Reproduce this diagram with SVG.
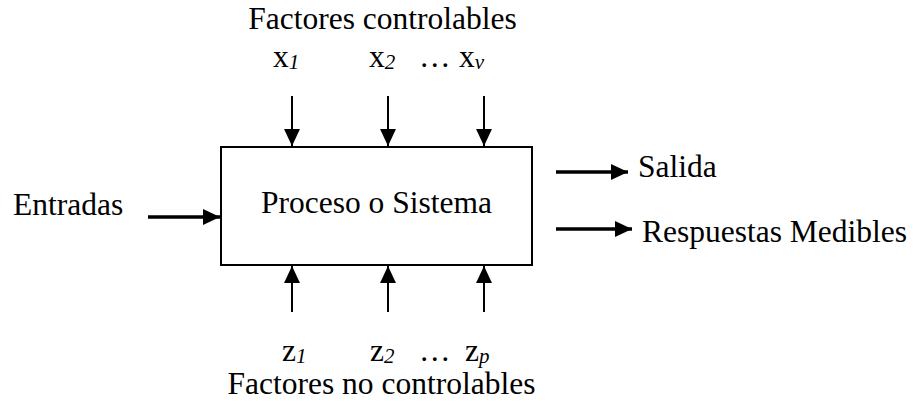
<svg xmlns="http://www.w3.org/2000/svg" width="920" height="406" viewBox="0 0 920 406">
  <style>
    text { font-family: "Liberation Serif", "Times New Roman", serif; fill: #000; }
    .lbl { font-size: 31.5px; }
    .sub { font-size: 21px; font-style: italic; }
    .thin { stroke: #000; stroke-width: 2; fill: none; }
    .thick { stroke: #000; stroke-width: 3.5; fill: none; }
    .box { fill: #fff; stroke: #000; stroke-width: 2; }
  </style>
  <defs>
    <marker id="head" markerUnits="userSpaceOnUse" markerWidth="18" markerHeight="16" refX="17" refY="8" orient="auto">
      <path d="M0,0 L17,8 L0,16 Z" fill="#000"/>
    </marker>
  </defs>

  <rect width="920" height="406" fill="#fff"/>

  <!-- process block -->
  <g id="proceso">
    <rect class="box" x="221" y="147" width="311" height="118"/>
    <text class="lbl" x="376.5" y="213" text-anchor="middle">Proceso o Sistema</text>
  </g>

  <!-- controllable factors -->
  <g id="controlables">
    <text class="lbl" x="382.5" y="29" text-anchor="middle">Factores controlables</text>
    <text class="lbl" x="273" y="67">x<tspan class="sub" dy="2">1</tspan></text>
    <text class="lbl" x="369" y="67">x<tspan class="sub" dy="2">2</tspan></text>
    <text class="lbl" x="419" y="67">…</text>
    <text class="lbl" x="459" y="67">x<tspan class="sub" dy="2">v</tspan></text>
  </g>

  <!-- uncontrollable factors -->
  <g id="no-controlables">
    <text class="lbl" x="282" y="361">z<tspan class="sub" dy="2">1</tspan></text>
    <text class="lbl" x="370" y="361">z<tspan class="sub" dy="2">2</tspan></text>
    <text class="lbl" x="419" y="361">…</text>
    <text class="lbl" x="465" y="361">z<tspan class="sub" dy="2">p</tspan></text>
    <text class="lbl" x="381.5" y="394" text-anchor="middle">Factores no controlables</text>
  </g>

  <g id="entradas">
    <text class="lbl" x="13" y="215">Entradas</text>
  </g>

  <g id="salida">
    <text class="lbl" x="638" y="177">Salida</text>
  </g>

  <g id="respuestas">
    <text class="lbl" x="642" y="242">Respuestas Medibles</text>
  </g>

  <!-- connectors -->
  <g id="connectors">
    <line class="thin" x1="292" y1="96" x2="292" y2="146" marker-end="url(#head)"/>
    <line class="thin" x1="388" y1="96" x2="388" y2="146" marker-end="url(#head)"/>
    <line class="thin" x1="484" y1="96" x2="484" y2="146" marker-end="url(#head)"/>

    <line class="thin" x1="292" y1="312" x2="292" y2="266" marker-end="url(#head)"/>
    <line class="thin" x1="388" y1="312" x2="388" y2="266" marker-end="url(#head)"/>
    <line class="thin" x1="484" y1="312" x2="484" y2="266" marker-end="url(#head)"/>

    <line class="thick" x1="148" y1="217" x2="220" y2="217" marker-end="url(#head)"/>
    <line class="thick" x1="556" y1="172" x2="628" y2="172" marker-end="url(#head)"/>
    <line class="thick" x1="556" y1="229" x2="632" y2="229" marker-end="url(#head)"/>
  </g>
</svg>
